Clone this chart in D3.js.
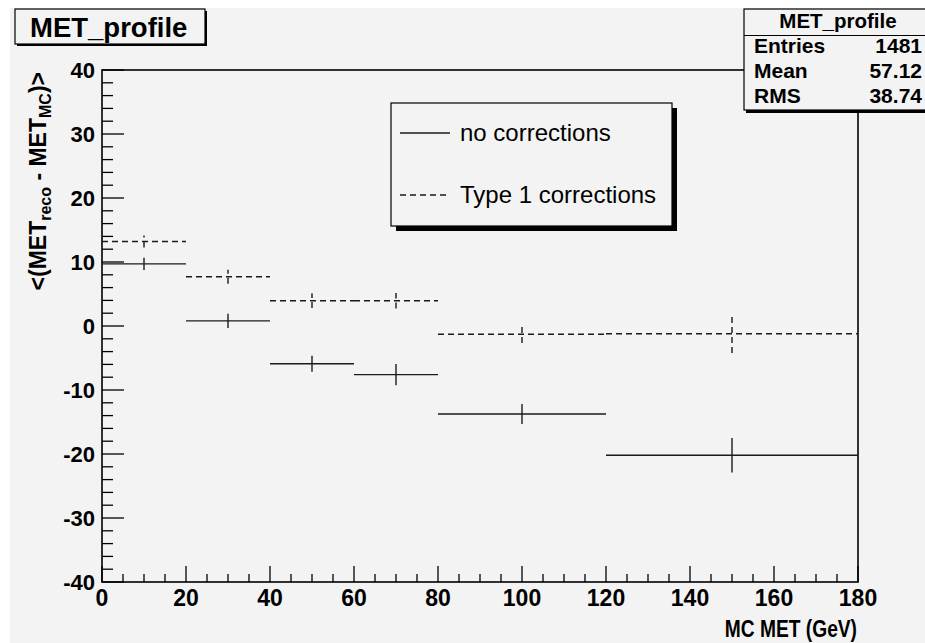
<!DOCTYPE html>
<html lang="en">
<head>
<meta charset="utf-8">
<script src="https://d3js.org/d3.v7.min.js"></script>
<style>
  body { margin: 0; background: #ffffff; }
  svg { display: block; font-family: "Liberation Sans", Arial, Helvetica, sans-serif; }
</style>
</head>
<body>
<script>
// bin edges and profile values
const binLo = [0, 20, 40, 60, 80, 120];
const binHi = [20, 40, 60, 80, 120, 180];
const binMid = [10, 30, 50, 70, 100, 150];

const noCorr = [9.7, 0.8, -5.9, -7.6, -13.75, -20.2];
const noCorrErr = [0.95, 1.1, 1.25, 1.67, 1.56, 2.7];

const type1 = [13.2, 7.7, 3.95, 3.95, -1.3, -1.2];
const type1Err = [0.95, 1.1, 1.15, 1.2, 1.35, 3.0];

const xTicks = [0, 20, 40, 60, 80, 100, 120, 140, 160, 180];
const yTicks = [-40, -30, -20, -10, 0, 10, 20, 30, 40];

const statsLabels = ["Entries", "Mean", "RMS"];
const statsValues = ["1481", "57.12", "38.74"];

const W = 925, H = 643;
const svg = d3.select("body").append("svg").attr("width", W).attr("height", H);

// canvas
svg.append("rect").attr("x", 10).attr("y", 8).attr("width", W - 10).attr("height", H - 8)
  .attr("fill", "#f3f3f3");

const x = d3.scaleLinear().domain([0, 180]).range([102, 858]);
const y = d3.scaleLinear().domain([-40, 40]).range([582, 70]);

const g = svg.append("g");

// ticks (major every 10 / 20, minor in between)
g.selectAll(".ymin").data(d3.range(-40, 40.01, 2)).enter().append("line")
  .attr("x1", x(0)).attr("x2", d => x(0) + (d % 10 === 0 ? 22 : 11))
  .attr("y1", d => y(d)).attr("y2", d => y(d))
  .attr("stroke", "#000").attr("stroke-width", 1.3);

g.selectAll(".xmin").data(d3.range(0, 180.01, 5)).enter().append("line")
  .attr("y1", y(-40)).attr("y2", d => y(-40) - (d % 20 === 0 ? 16 : 8))
  .attr("x1", d => x(d)).attr("x2", d => x(d))
  .attr("stroke", "#000").attr("stroke-width", 1.3);

// frame
g.append("rect").attr("x", x(0)).attr("y", y(40))
  .attr("width", x(180) - x(0)).attr("height", y(-40) - y(40))
  .attr("fill", "none").attr("stroke", "#000").attr("stroke-width", 1.6);

// tick labels
g.selectAll(".ylab").data(yTicks).enter().append("text")
  .attr("x", 95).attr("y", d => y(d)).attr("dy", "0.36em")
  .attr("text-anchor", "end").attr("font-size", 22).attr("font-weight", "bold")
  .text(d => d);

g.selectAll(".xlab").data(xTicks).enter().append("text")
  .attr("x", d => x(d)).attr("y", 606)
  .attr("text-anchor", "middle").attr("font-size", 23).attr("font-weight", "bold")
  .text(d => d);

// axis titles
svg.append("text").attr("transform", "translate(857,637) scale(0.8,1)")
  .attr("text-anchor", "end")
  .attr("font-size", 24).attr("font-weight", "bold")
  .text("MC MET (GeV)");

const yt = svg.append("text")
  .attr("transform", "translate(46,72) rotate(-90)")
  .attr("text-anchor", "end").attr("font-size", 23).attr("font-weight", "bold");
yt.append("tspan").text("<(MET");
yt.append("tspan").attr("font-size", 16).attr("dy", 5).text("reco");
yt.append("tspan").attr("dy", -5).text(" - MET");
yt.append("tspan").attr("font-size", 16).attr("dy", 5).text("MC");
yt.append("tspan").attr("dy", -5).text(")>");

// profile points
function drawSeries(vals, errs, dash) {
  const s = g.append("g").attr("stroke", "#1a1a1a").attr("stroke-width", 1.4)
    .attr("stroke-dasharray", dash);
  vals.forEach((v, i) => {
    s.append("line").attr("x1", x(binLo[i])).attr("x2", x(binHi[i]))
      .attr("y1", y(v)).attr("y2", y(v));
    s.append("line").attr("x1", x(binMid[i])).attr("x2", x(binMid[i]))
      .attr("y1", y(v - errs[i])).attr("y2", y(v + errs[i]));
  });
}
drawSeries(noCorr, noCorrErr, null);
drawSeries(type1, type1Err, "6,4");

// legend
const lg = svg.append("g");
lg.append("rect").attr("x", 396).attr("y", 108).attr("width", 281).attr("height", 123).attr("fill", "#000");
lg.append("rect").attr("x", 391).attr("y", 103).attr("width", 281).attr("height", 123)
  .attr("fill", "#f3f3f3").attr("stroke", "#000").attr("stroke-width", 1.2);
const legendItems = [["no corrections", null, 133], ["Type 1 corrections", "6,4", 195]];
legendItems.forEach(([label, dash, yy]) => {
  lg.append("line").attr("x1", 400).attr("x2", 450).attr("y1", yy).attr("y2", yy)
    .attr("stroke", "#1a1a1a").attr("stroke-width", 1.4).attr("stroke-dasharray", dash);
  lg.append("text").attr("x", 460).attr("y", yy + 8).attr("font-size", 24).text(label);
});

// title box
svg.append("rect").attr("x", 17).attr("y", 11).attr("width", 190).attr("height", 35).attr("fill", "#000");
svg.append("rect").attr("x", 15).attr("y", 9).attr("width", 190).attr("height", 35)
  .attr("fill", "#f3f3f3").attr("stroke", "#000").attr("stroke-width", 1.2);
svg.append("text").attr("x", 30).attr("y", 37).attr("font-size", 27.5).attr("font-weight", "bold")
  .text("MET_profile");

// stats box
svg.append("rect").attr("x", 746).attr("y", 11).attr("width", 200).attr("height", 102).attr("fill", "#000");
svg.append("rect").attr("x", 744).attr("y", 9).attr("width", 200).attr("height", 101)
  .attr("fill", "#f3f3f3").attr("stroke", "#000").attr("stroke-width", 1.2);
svg.append("line").attr("x1", 744).attr("x2", 925).attr("y1", 35.5).attr("y2", 35.5)
  .attr("stroke", "#000").attr("stroke-width", 1.2);
svg.append("text").attr("x", 838).attr("y", 28).attr("text-anchor", "middle")
  .attr("font-size", 20.5).attr("font-weight", "bold").text("MET_profile");
statsLabels.forEach((l, i) => {
  const yy = 53 + i * 25;
  svg.append("text").attr("x", 754).attr("y", yy).attr("font-size", 21).attr("font-weight", "bold").text(l);
  svg.append("text").attr("x", 922).attr("y", yy).attr("text-anchor", "end")
    .attr("font-size", 21).attr("font-weight", "bold").text(statsValues[i]);
});
</script>
</body>
</html>
